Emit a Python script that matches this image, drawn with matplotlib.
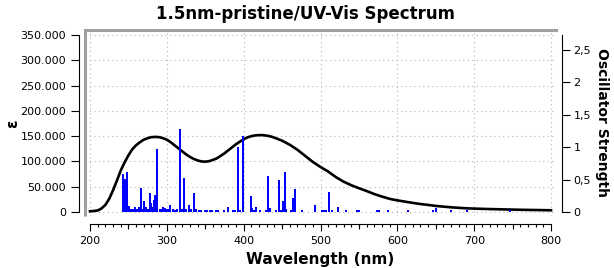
import matplotlib
matplotlib.use('Agg')
import matplotlib.pyplot as plt
import matplotlib.ticker as ticker

# absorption curve (nm, epsilon)
wl = [200, 205, 210, 215, 220, 225, 230, 235, 240, 245, 250, 255, 260, 265, 270,
      275, 280, 285, 290, 295, 300, 305, 310, 315, 320, 325, 330, 335, 340, 345,
      350, 355, 360, 365, 370, 375, 380, 385, 390, 395, 400, 405, 410, 415, 420,
      425, 430, 435, 440, 445, 450, 455, 460, 465, 470, 475, 480, 490, 500, 510,
      520, 530, 540, 550, 560, 570, 580, 590, 600, 610, 620, 630, 640, 650, 660,
      670, 680, 690, 700, 720, 740, 760, 780, 800]
eps = [1500, 2000, 3000, 7000, 14000, 26000, 43000, 62000, 82000, 98000, 112000,
       124000, 132000, 138000, 143000, 146000, 148000, 148500, 148000, 146000,
       143000, 138000, 132000, 126000, 120000, 114000, 109000, 105000, 102000,
       100000, 99500, 100500, 103000, 106000, 111000, 116000, 122000, 128000,
       134000, 139000, 144000, 147500, 150000, 151500, 152000, 152000, 151000,
       149500, 147000, 144000, 141000, 137000, 133000, 128000, 123000, 117000,
       111000, 99000, 89000, 80000, 69000, 60000, 53000, 47000, 41500, 35500,
       30500, 26000, 23000, 20500, 18000, 15800, 14000, 12000, 10600, 9300, 8200,
       7300, 6700, 5800, 5100, 4400, 3900, 3400]

# excitations (nm, oscillator strength)
exc_wl = [243.0, 245.1, 246.9, 248.2, 250.8, 253.4, 256.0, 258.6, 261.2, 263.8,
          266.4, 268.6, 270.7, 272.9, 275.1, 277.7, 279.8, 281.6, 283.3, 285.0,
          287.6, 290.8, 292.4, 295.1, 297.7, 300.3, 302.0, 304.6, 307.7, 310.7,
          313.3, 317.2, 319.8, 322.4, 325.4, 328.5, 331.9, 335.4, 338.4, 341.5,
          344.1, 350.1, 352.7, 355.8, 358.9, 363.7, 366.7, 374.9, 379.3, 386.6,
          389.2, 392.7, 395.3, 398.8, 409.2, 411.3, 413.2, 415.8, 421.0, 428.8,
          431.8, 434.4, 441.8, 446.1, 448.7, 450.9, 453.5, 455.6, 461.7, 464.3,
          466.9, 475.6, 492.9, 501.6, 504.2, 506.9, 510.8, 515.1, 522.5, 533.6,
          548.0, 550.5, 572.9, 575.9, 587.6, 614.0, 646.0, 650.0, 670.0, 690.5,
          746.5]
exc_f = [0.59, 0.51, 0.12, 0.62, 0.10, 0.04, 0.04, 0.08, 0.05, 0.07,
         0.37, 0.04, 0.17, 0.08, 0.04, 0.29, 0.14, 0.08, 0.19, 0.26,
         0.975, 0.04, 0.04, 0.08, 0.06, 0.04, 0.04, 0.11, 0.04, 0.03,
         0.04, 1.275, 0.04, 0.53, 0.04, 0.11, 0.04, 0.29, 0.04, 0.03,
         0.03, 0.03, 0.03, 0.03, 0.03, 0.03, 0.03, 0.03, 0.07, 0.03,
         0.03, 1.0, 0.03, 1.18, 0.25, 0.06, 0.03, 0.07, 0.03, 0.03,
         0.56, 0.06, 0.03, 0.50, 0.03, 0.17, 0.62, 0.05, 0.03, 0.22,
         0.36, 0.03, 0.11, 0.03, 0.03, 0.03, 0.31, 0.03, 0.08, 0.03,
         0.03, 0.03, 0.03, 0.03, 0.03, 0.03, 0.03, 0.06, 0.03, 0.03,
         0.03]

W, H = 614, 268
fig = plt.figure(figsize=(W / 100, H / 100), dpi=100)
ax = fig.add_axes([85 / W, (H - 216) / H, (556 - 85) / W, (216 - 30) / H])

# pixel -> data mapping: 200nm at x=90, 800nm at x=551; eps 0 at y=212, 350000 at y=35
pxnm = (551 - 90) / 600
ax.set_xlim(200 - 5 / pxnm, 800 + 5 / pxnm)
pxe = 177 / 350000
ax.set_ylim(-4 / pxe, 182 / pxe)

ax.plot(wl, eps, color='black', lw=1.9, zorder=3)

grid_kw = dict(color='#b4b4b4', lw=0.8, linestyle=(0, (1, 3)))
ax.set_xticks(range(200, 801, 100))
ax.set_yticks(range(0, 350001, 50000))
ax.grid(True, **grid_kw)
ax.set_axisbelow(True)

ax.spines['right'].set_visible(False)
ax.spines['top'].set_color('#a0a0a0')
ax.spines['top'].set_linewidth(2.2)
ax.plot([0, 0], [0, 1], transform=ax.transAxes, color='#a0a0a0', lw=2.2,
        clip_on=False, solid_capstyle='butt')

ax.spines['left'].set_position(('outward', 4))
ax.spines['left'].set_bounds(0, 350000)
ax.spines['bottom'].set_position(('outward', 6))
ax.spines['bottom'].set_bounds(200, 800)
for s in ['left', 'bottom']:
    ax.spines[s].set_linewidth(0.8)

ax.xaxis.set_minor_locator(ticker.MultipleLocator(10))
ax.tick_params(axis='x', which='major', direction='out', length=5, width=0.8,
               labelsize=8, pad=3.5)
ax.tick_params(axis='x', which='minor', direction='out', length=2.3, width=0.8)
ax.tick_params(axis='y', direction='out', length=5.5, width=0.8, labelsize=8, pad=4)
ax.yaxis.set_major_formatter(ticker.FuncFormatter(
    lambda v, p: f"{int(round(v)):,}".replace(',', '.')))

# medium ticks at the 50s
ax3 = ax.twiny()
ax3.set_xlim(ax.get_xlim())
ax3.xaxis.set_ticks_position('bottom')
for s in ax3.spines.values():
    s.set_visible(False)
ax3.spines['bottom'].set_position(('outward', 6))
ax3.set_xticks(range(250, 800, 100))
ax3.set_xticklabels([])
ax3.tick_params(axis='x', direction='out', length=3.6, width=0.8)

# oscillator strengths
ax2 = ax.twinx()
pxf = 162 / 2.5
ax2.set_ylim(-4 / pxf, 182 / pxf)
ax2.bar(exc_wl, exc_f, width=2.6, color='#0000ff', zorder=4)
for s in ['left', 'top', 'bottom']:
    ax2.spines[s].set_visible(False)
ax2.spines['right'].set_position(('outward', 4))
ax2.spines['right'].set_bounds(0, 177 / pxf)
ax2.spines['right'].set_linewidth(0.8)
ax2.set_yticks([0, 0.5, 1, 1.5, 2, 2.5])
ax2.yaxis.set_major_formatter(ticker.FuncFormatter(
    lambda v, p: f"{v:g}".replace('.', ',')))
ax2.tick_params(axis='y', direction='out', length=5.5, width=0.8, labelsize=8, pad=3)

ax.set_xlabel('Wavelength (nm)', fontsize=11, fontweight='bold', labelpad=4)
fig.text(12.5 / W, 1 - 123.5 / H, 'ε', fontsize=11, fontweight='bold',
         rotation=90, ha='center', va='center')
ax2.set_ylabel('Oscillator Strength', fontsize=10, fontweight='bold',
               rotation=-90, labelpad=13)
fig.text(306 / W, 1 - 14 / H, '1.5nm-pristine/UV-Vis Spectrum', fontsize=12,
         fontweight='bold', ha='center', va='center')

fig.savefig('out.png', dpi=100, facecolor='white')
